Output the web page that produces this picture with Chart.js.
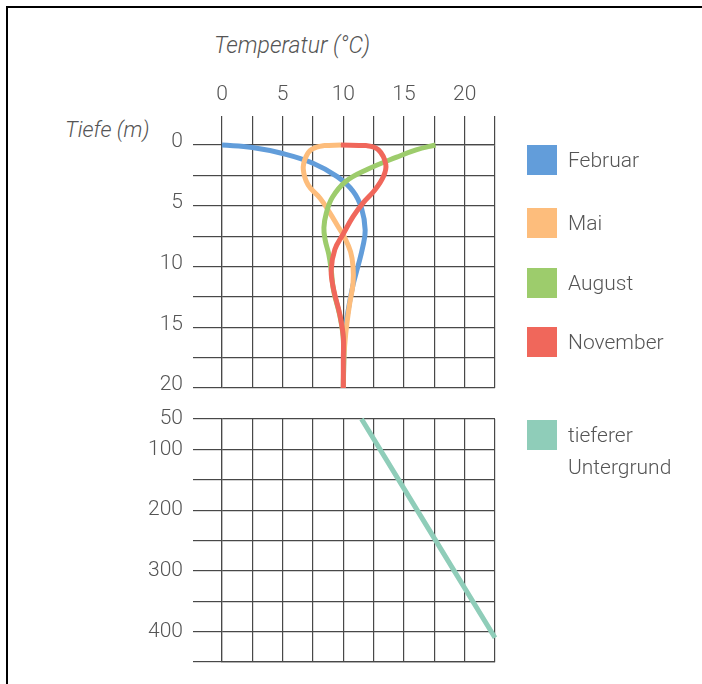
<!DOCTYPE html>
<html>
<head>
<meta charset="utf-8">
<script src="https://cdn.jsdelivr.net/npm/chart.js@4/dist/chart.umd.min.js"></script>
<style>
  html, body { margin: 0; padding: 0; background: #fff; }
  body { width: 702px; height: 684px; position: relative; overflow: hidden;
         font-family: Roboto, "Liberation Sans", sans-serif; font-weight: 300; color: #555; }
  .frame { position: absolute; left: 6px; top: 6px; right: -10px; bottom: -10px;
           border-left: 2px solid #000; border-top: 2px solid #000; }
  canvas { position: absolute; left: 0; }
  .lbl { position: absolute; font-style: italic; white-space: nowrap; line-height: 1; }
  .leg { position: absolute; left: 527px; width: 30px; height: 30px; }
  .legtxt { position: absolute; left: 568px; font-size: 21px; line-height: 32px; }
</style>
</head>
<body>
<div class="frame"></div>
<div class="lbl" style="left:214px; top:34px; font-size:23px;">Temperatur (°C)</div>
<div class="lbl" style="left:65px; top:119px; font-size:22px;">Tiefe (m)</div>

<canvas id="topChart" width="702" height="392" style="top:0"></canvas>
<canvas id="deepChart" width="702" height="270" style="top:400px"></canvas>

<div id="legend"></div>

<script>
// Temperatur (°C) und Tiefe (m) je Monat
const febTemp = [0, 2.5, 5, 7.5, 9.5, 10.8, 11.5, 11.8, 11.6, 11.2, 10.8, 10.4, 10.1, 10];
const febDepth = [0, 0.2, 0.7, 1.5, 2.6, 3.8, 5.2, 7.0, 8.4, 10.0, 11.5, 13.6, 15.8, 20];

const maiTemp = [9.8, 8.4, 7.4, 6.9, 6.7, 7.1, 8.1, 8.9, 9.5, 10.1, 10.6, 10.8, 10.8, 10.5, 10.2, 10.05, 10];
const maiDepth = [0, 0.05, 0.35, 1.0, 2.0, 3.3, 4.4, 5.6, 6.6, 7.6, 8.8, 10.0, 11.4, 13.2, 15.5, 17.5, 20];

const augTemp = [17.6, 16, 14.4, 12, 10.2, 9.1, 8.6, 8.4, 8.5, 8.8, 9.0, 9.2, 9.7, 10, 10];
const augDepth = [0, 0.4, 1.0, 2.0, 3.0, 4.3, 5.6, 6.8, 7.8, 9.0, 10.3, 12, 14, 16, 20];

const novTemp = [9.8, 11.9, 12.9, 13.5, 13.3, 12.6, 11.6, 10.8, 10.0, 9.3, 9.0, 9.2, 9.7, 10, 10, 10];
const novDepth = [0, 0.05, 0.4, 1.6, 2.6, 3.7, 4.8, 5.9, 7.3, 8.6, 10.3, 11.9, 13.9, 15.8, 17.6, 20];

const deepTemp = [11.5, 22.5];
const deepDepth = [50, 410];

const seriesNames = ['Februar', 'Mai', 'August', 'November', 'tieferer Untergrund'];
const seriesColors = ['#629dda', '#fdbd7c', '#9dcc6c', '#f0675b', '#8fcdb9'];

const deepTickLabels = [50, 100, 200, 300, 400];

function pts(xs, ys) {
    return xs.map((x, i) => ({ x: x, y: ys[i] }));
}

const gridColor = '#484848';
const tickFont = { family: 'Roboto, "Liberation Sans", sans-serif', size: 21, weight: '300' };

function lineSet(i, xs, ys, order) {
    return {
        label: seriesNames[i],
        data: pts(xs, ys),
        showLine: true,
        borderColor: seriesColors[i],
        borderWidth: 5,
        pointRadius: 0,
        tension: 0.4,
        clip: false,
        order: order
    };
}

// Achsen ohne Zusatzrand, damit die Zeichenfläche fest sitzt
function fixY(s) {
    s.width = 222;
    s.paddingTop = 0;
    s.paddingBottom = 0;
}
function noPad(s) {
    s.paddingLeft = 0;
    s.paddingRight = 0;
}

// obere Grafik: 0 - 20 m
new Chart(document.getElementById('topChart'), {
    type: 'scatter',
    data: {
        datasets: [
            lineSet(0, febTemp, febDepth, 4),
            lineSet(1, maiTemp, maiDepth, 3),
            lineSet(2, augTemp, augDepth, 2),
            lineSet(3, novTemp, novDepth, 1)
        ]
    },
    options: {
        responsive: false,
        animation: false,
        layout: { padding: { left: 0, right: 207, top: 0, bottom: 4 } },
        plugins: { legend: { display: false }, tooltip: { enabled: false } },
        scales: {
            x: {
                position: 'top',
                min: 0, max: 22.5,
                ticks: {
                    stepSize: 2.5,
                    font: tickFont, color: '#555', padding: 9, maxRotation: 0,
                    autoSkip: false,
                    callback: v => (v % 5 === 0 ? v : '')
                },
                grid: { color: gridColor, lineWidth: 1.2, tickLength: 29 },
                border: { color: gridColor, width: 1.2 },
                afterFit: s => { s.height = 145; noPad(s); }
            },
            y: {
                reverse: true,
                min: 0, max: 20,
                ticks: {
                    stepSize: 2.5,
                    font: tickFont, color: '#555', padding: 10, labelOffset: -3,
                    autoSkip: false,
                    callback: v => (v % 5 === 0 ? v : '')
                },
                grid: { color: gridColor, lineWidth: 1.2, tickLength: 29 },
                border: { color: gridColor, width: 1.2 },
                afterFit: fixY
            }
        }
    }
});

// untere Grafik: 50 - 450 m
new Chart(document.getElementById('deepChart'), {
    type: 'scatter',
    data: {
        datasets: [lineSet(4, deepTemp, deepDepth, 1)]
    },
    options: {
        responsive: false,
        animation: false,
        layout: { padding: { left: 0, right: 207, top: 19, bottom: 8 } },
        plugins: { legend: { display: false }, tooltip: { enabled: false } },
        scales: {
            x: {
                position: 'bottom',
                min: 0, max: 22.5,
                ticks: { stepSize: 2.5, display: false },
                grid: { color: gridColor, lineWidth: 1.2, drawTicks: false },
                border: { color: gridColor, width: 1.2 },
                afterFit: s => { s.height = 0; noPad(s); }
            },
            y: {
                reverse: true,
                min: 50, max: 450,
                ticks: {
                    stepSize: 50,
                    font: tickFont, color: '#555', padding: 10,
                    autoSkip: false,
                    callback: v => (deepTickLabels.includes(v) ? v : '')
                },
                grid: { color: gridColor, lineWidth: 1.2, tickLength: 29 },
                border: { color: gridColor, width: 1.2 },
                afterFit: fixY
            }
        }
    }
});

// Legende
const legendTops = [145, 208, 268, 327, 420];
const legend = document.getElementById('legend');
seriesNames.forEach((name, i) => {
    const box = document.createElement('div');
    box.className = 'leg';
    box.style.top = legendTops[i] + 'px';
    box.style.background = seriesColors[i];
    legend.appendChild(box);
    const txt = document.createElement('div');
    txt.className = 'legtxt';
    txt.style.top = (legendTops[i] - 1) + 'px';
    txt.innerHTML = i === 4 ? 'tieferer<br>Untergrund' : name;
    legend.appendChild(txt);
});
</script>
</body>
</html>
